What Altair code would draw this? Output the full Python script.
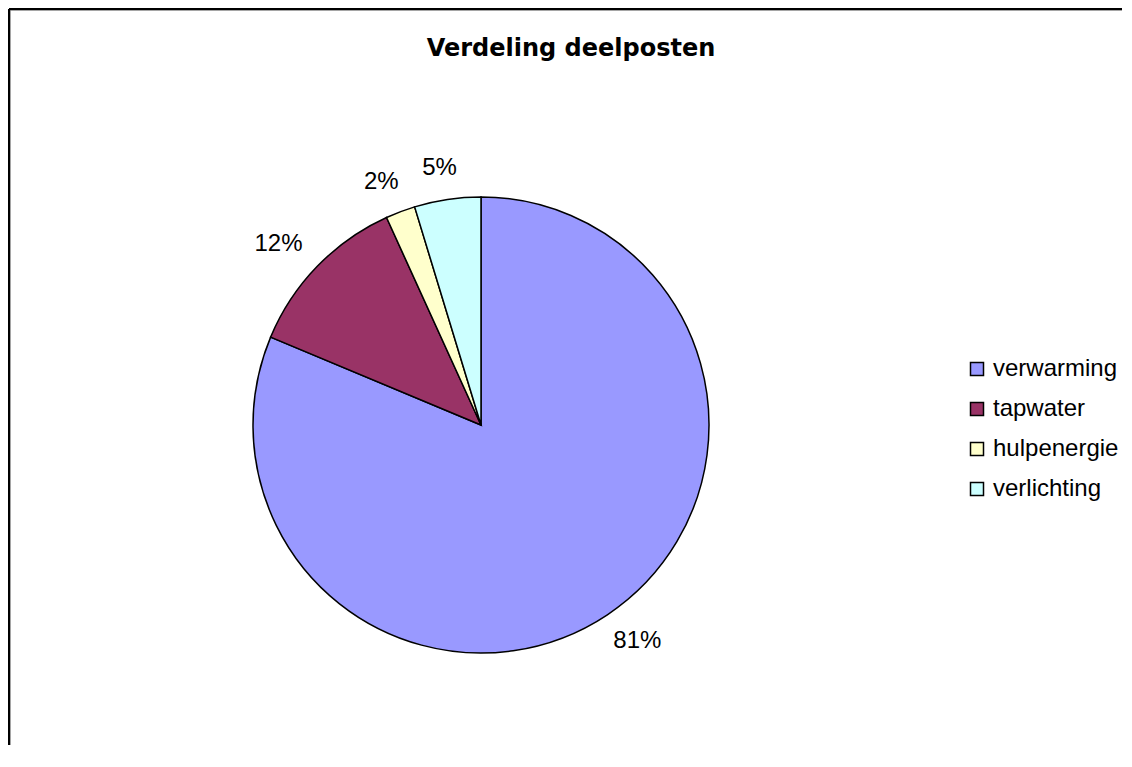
import altair as alt
import pandas as pd

categories = ["verwarming", "tapwater", "hulpenergie", "verlichting"]
values = [81.3, 11.9, 2.1, 4.7]
colors = ["#9999FF", "#993366", "#FFFFCC", "#CCFFFF"]
title_text = "Verdeling deelposten"

df = pd.DataFrame({"cat": categories, "value": values, "order": list(range(len(categories)))})

W, H = 1112, 735
CX, CY = 471, 415
R = 228
LRX, LRY = 282, 260  # label ring (outside end)

base = (
    alt.Chart(df)
    .transform_joinaggregate(total="sum(value)")
    .transform_window(cum="sum(value)", sort=[alt.SortField("order")], frame=[None, 0])
    .transform_calculate(
        label="format(datum.value / datum.total, '.0%')",
        mid="2 * PI * (datum.cum - datum.value / 2) / datum.total",
    )
    .transform_calculate(
        lx=f"{CX} + {LRX} * sin(datum.mid)",
        ly=f"{CY} - {LRY} * cos(datum.mid)",
    )
)

arcs = base.mark_arc(outerRadius=R, stroke="black", strokeWidth=1.5).encode(
    theta=alt.Theta("value:Q", stack=True),
    order=alt.Order("order:Q", sort="ascending"),
    color=alt.Color(
        "cat:N",
        scale=alt.Scale(domain=categories, range=colors),
        legend=alt.Legend(
            title=None,
            orient="none",
            legendX=955,
            legendY=347,
            symbolType="square",
            symbolSize=169,
            symbolStrokeColor="black",
            symbolStrokeWidth=1.5,
            symbolOpacity=1,
            labelFont="Liberation Sans",
            labelFontSize=24,
            labelColor="black",
            labelOffset=4,
            rowPadding=16,
            padding=0,
        ),
    ),
    x=alt.value(CX),
    y=alt.value(CY),
)

labels = base.mark_text(
    font="Liberation Sans", fontSize=24, color="black", align="center", baseline="middle"
).encode(
    x=alt.X("lx:Q", scale=None),
    y=alt.Y("ly:Q", scale=None),
    text=alt.Text("label:N"),
)

title = alt.Chart(alt.Data(values=[{"t": title_text}])).mark_text(
    font="DejaVu Sans", fontWeight="bold", fontSize=24, color="black", align="center", baseline="alphabetic"
).encode(text="t:N", x=alt.value(561), y=alt.value(46))

frame_data = alt.Data(values=[{"a": 1}])
top_rule = alt.Chart(frame_data).mark_rule(color="black", strokeWidth=2.5).encode(
    x=alt.value(-1), x2=alt.value(W), y=alt.value(-1)
)
left_rule = alt.Chart(frame_data).mark_rule(color="black", strokeWidth=2.5).encode(
    x=alt.value(-1), y=alt.value(-1), y2=alt.value(H)
)

chart = alt.layer(arcs, labels, title, top_rule, left_rule).properties(
    width=W,
    height=H,
    autosize=alt.AutoSizeParams(type="none"),
    padding={"left": 2, "top": 2, "right": 0, "bottom": 0},
).configure_view(stroke=None).configure(background="white")

chart.save("out.html", embed_options={"renderer": "svg", "actions": False})
